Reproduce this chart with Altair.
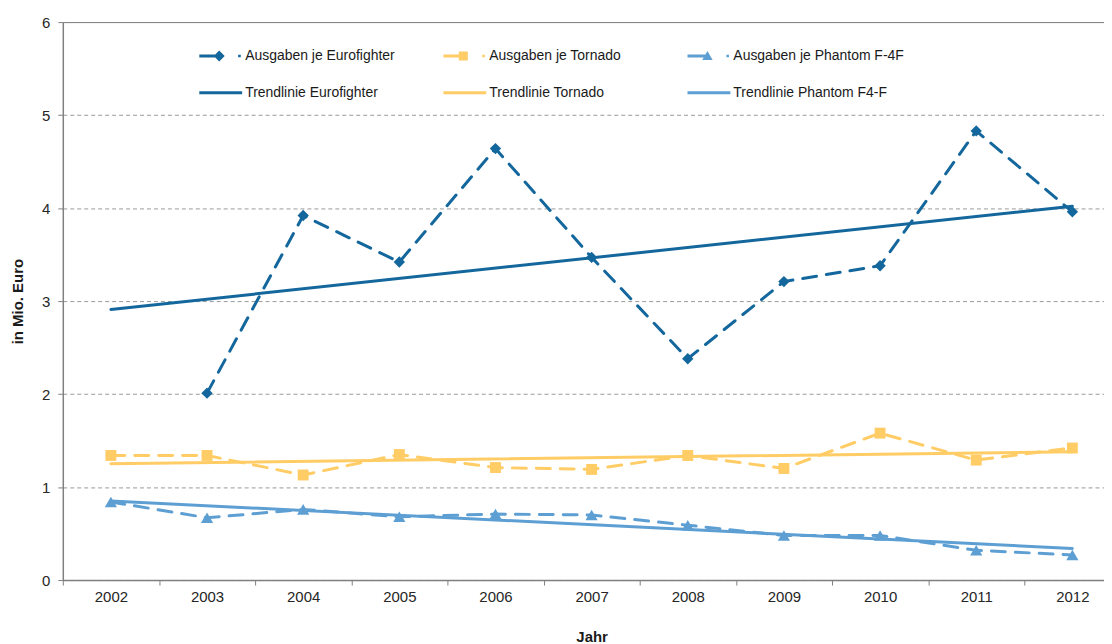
import altair as alt
import pandas as pd

# ---------------- data ----------------
years = ["2002", "2003", "2004", "2005", "2006", "2007", "2008", "2009", "2010", "2011", "2012"]
eurofighter = [None, 2.01, 3.92, 3.42, 4.64, 3.47, 2.38, 3.21, 3.38, 4.83, 3.96]
tornado = [1.34, 1.34, 1.13, 1.35, 1.21, 1.19, 1.34, 1.20, 1.58, 1.29, 1.42]
phantom = [0.84, 0.67, 0.76, 0.68, 0.71, 0.70, 0.59, 0.48, 0.48, 0.32, 0.27]

trend_years = ["2002", "2012"]
trend_eurofighter = [2.91, 4.02]
trend_tornado = [1.25, 1.38]
trend_phantom = [0.85, 0.34]

names = [
    "Ausgaben je Eurofighter",
    "Ausgaben je Tornado",
    "Ausgaben je Phantom F-4F",
    "Trendlinie Eurofighter",
    "Trendlinie Tornado",
    "Trendlinie Phantom F4-F",
]
colors = ["#14679c", "#ffcc66", "#5e9fd3", "#14679c", "#ffcc66", "#5e9fd3"]
y_ticks = [0, 1, 2, 3, 4, 5, 6]

# legend symbols (line + marker + dot, or plain line)
legend_shapes = [
    "M-3.3,-0.15L-1.1,-0.15L-1.1,0.15L-3.3,0.15Z M-1.3,-0.55L-0.75,0L-1.3,0.55L-1.85,0Z M0.6,-0.13L0.86,-0.13L0.86,0.13L0.6,0.13Z",
    "M-3.3,-0.15L-1.1,-0.15L-1.1,0.15L-3.3,0.15Z M-1.75,-0.45L-0.85,-0.45L-0.85,0.45L-1.75,0.45Z M0.6,-0.13L0.86,-0.13L0.86,0.13L0.6,0.13Z",
    "M-3.3,-0.15L-1.1,-0.15L-1.1,0.15L-3.3,0.15Z M-1.3,-0.5L-0.78,0.4L-1.82,0.4Z M0.6,-0.13L0.86,-0.13L0.86,0.13L0.6,0.13Z",
    "M-3.3,-0.15L1.0,-0.15L1.0,0.15L-3.3,0.15Z",
    "M-3.3,-0.15L1.0,-0.15L1.0,0.15L-3.3,0.15Z",
    "M-3.3,-0.15L1.0,-0.15L1.0,0.15L-3.3,0.15Z",
]

# ---------------- tables ----------------
rows = []
for name, vals in zip(names[:3], [eurofighter, tornado, phantom]):
    for yr, v in zip(years, vals):
        if v is not None:
            rows.append({"Jahr": yr, "Wert": v, "series": name})
ausgaben = pd.DataFrame(rows)

trows = []
for name, vals in zip(names[3:], [trend_eurofighter, trend_tornado, trend_phantom]):
    for yr, v in zip(trend_years, vals):
        trows.append({"Jahr": yr, "Wert": v, "series": name})
trend = pd.DataFrame(trows)

legend_df = pd.DataFrame({"series": names})

FONT = "Liberation Sans"
AX = "#808080"

color_scale = alt.Scale(domain=names, range=colors)
shape_scale = alt.Scale(domain=names, range=legend_shapes)

x_enc = alt.X(
    "Jahr:O",
    bandPosition=0.5,
    scale=alt.Scale(type="band", domain=years, range=[0, 1061.5], paddingInner=0, paddingOuter=0),
    axis=alt.Axis(
        title="Jahr",
        tickBand="extent",
        labelAngle=0,
        grid=False,
        labelOverlap=False,
        domainColor=AX,
        domainWidth=1.5,
        tickColor=AX,
        tickSize=5,
        labelPadding=5,
        labelFont=FONT,
        labelFontSize=15,
        labelColor="#262626",
        titleFont=FONT,
        titleFontSize=15,
        titleFontWeight="bold",
        titleColor="#1a1a1a",
        titleY=57,
        titleBaseline="middle",
    ),
)
y_enc = alt.Y(
    "Wert:Q",
    scale=alt.Scale(domain=[0, 6], nice=False),
    axis=alt.Axis(
        title="in Mio. Euro",
        values=y_ticks,
        format="d",
        grid=True,
        gridDash={"condition": {"test": "datum.value == 6", "value": []}, "value": [4, 3]},
        gridColor={"condition": {"test": "datum.value == 6", "value": "#7a7a7a"}, "value": "#9a9a9a"},
        gridWidth=1,
        domainColor=AX,
        domainWidth=1.5,
        tickColor=AX,
        tickSize=5,
        labelPadding=8,
        labelFont=FONT,
        labelFontSize=15,
        labelColor="#262626",
        titleFont=FONT,
        titleFontSize=15,
        titleFontWeight="bold",
        titleColor="#1a1a1a",
        titleX=-45,
        titleY=280,
        titleAngle=-90,
        titleAlign="center",
        titleBaseline="middle",
    ),
)

layers = []
# trend lines
for name, col in zip(names[3:], colors[3:]):
    layers.append(
        alt.Chart(trend)
        .transform_filter(alt.datum.series == name)
        .mark_line(strokeWidth=3, strokeCap="round", color=col)
        .encode(x=x_enc, y=y_enc)
    )
# dashed expenditure lines
for name, col in zip(names[:3], colors[:3]):
    layers.append(
        alt.Chart(ausgaben)
        .transform_filter(alt.datum.series == name)
        .mark_line(strokeWidth=3, strokeDash=[14, 10], strokeCap="round", color=col)
        .encode(x=x_enc, y=y_enc)
    )
# markers
marker_shapes = ["diamond", "square", "triangle-up"]
marker_sizes = [130, 120, 150]
for name, col, shp, sz in zip(names[:3], colors[:3], marker_shapes, marker_sizes):
    layers.append(
        alt.Chart(ausgaben)
        .transform_filter(alt.datum.series == name)
        .mark_point(shape=shp, filled=True, size=sz, opacity=1, strokeWidth=0, color=col)
        .encode(x=x_enc, y=y_enc)
    )

legend_props = dict(
    title=None,
    orient="none",
    legendX=160,
    legendY=24,
    direction="horizontal",
    columns=3,
    gridAlign="all",
    columnPadding=27,
    rowPadding=20,
    symbolSize=400,
    symbolStrokeWidth=0,
    labelFont=FONT,
    labelFontSize=14,
    labelColor="#1a1a1a",
    labelOffset=3,
    labelLimit=400,
    padding=0,
)

legend_layer = alt.Chart(legend_df).mark_point(filled=True, clip=True, opacity=1, size=10).encode(
    x=alt.value(-500),
    y=alt.value(-500),
    color=alt.Color("series:N", scale=color_scale, legend=alt.Legend(**legend_props)),
    shape=alt.Shape("series:N", scale=shape_scale, legend=alt.Legend(**legend_props)),
)
layers.append(legend_layer)

chart = (
    alt.layer(*layers)
    .properties(
        width=1045,
        height=560,
        autosize=alt.AutoSizeParams(type="none"),
        padding={"left": 55, "top": 13, "right": 0, "bottom": 63},
        background="white",
    )
    .configure_view(stroke="transparent")
)

chart.save("out.html", embed_options={"renderer": "svg", "actions": False})
